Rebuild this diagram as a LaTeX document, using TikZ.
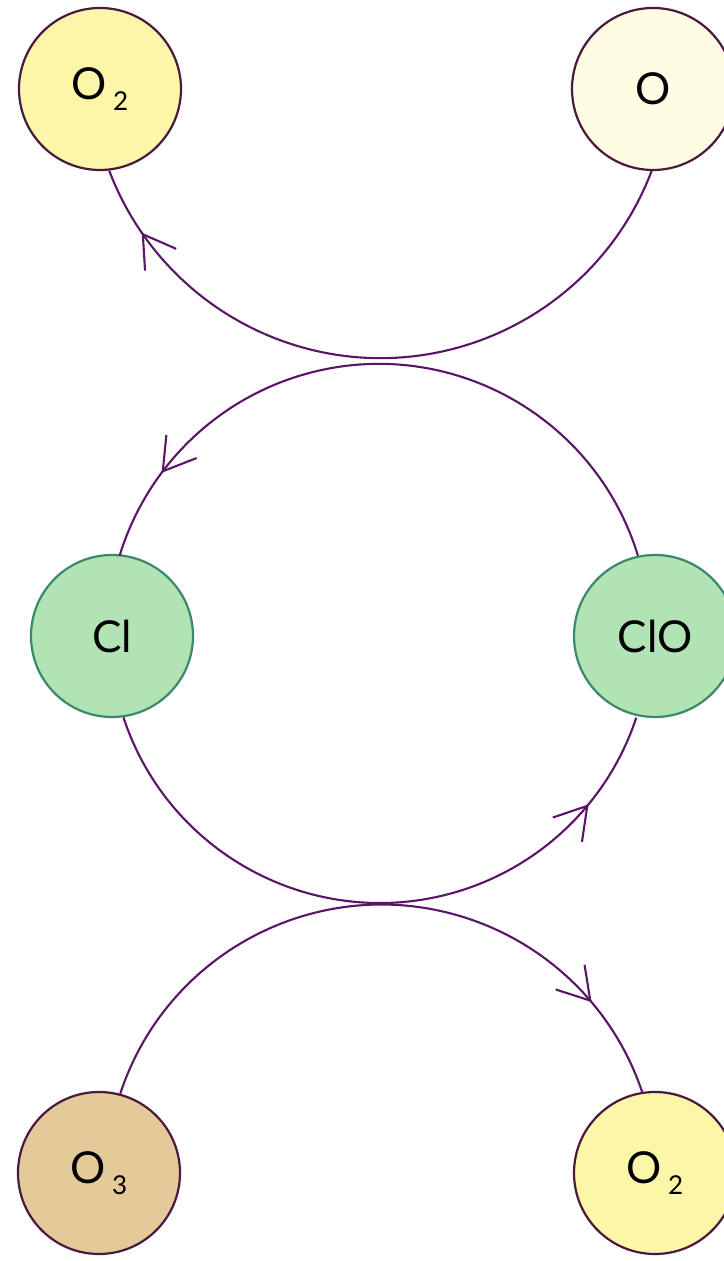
\documentclass[tikz,border=0pt]{standalone}
\usepackage{fontspec}
\setmainfont{Lato}
\usetikzlibrary{decorations.markings}
\definecolor{arcc}{HTML}{5A1666}
\definecolor{obord}{HTML}{4A1A3E}
\definecolor{gbord}{HTML}{3A8A6A}
\definecolor{otwofill}{HTML}{FBF6A8}
\definecolor{ofill}{HTML}{FEFDE3}
\definecolor{clfill}{HTML}{B2E3B4}
\definecolor{othreefill}{HTML}{E4C999}
\newcommand\molsub[1]{\hspace{6pt}\raisebox{-11pt}{\fontsize{26}{26}\selectfont #1}}
\tikzset{
  mol/.style={circle, minimum size=162pt, inner sep=0pt, line width=2.2pt,
    font=\fontsize{44}{44}\selectfont},
  omol/.style={mol, draw=obord},
  clmol/.style={mol, draw=gbord, fill=clfill},
  flow/.style={draw=arcc, line width=2.1pt},
  arrowat/.style={postaction={decorate, decoration={markings,
    mark=at position #1 with {\draw[arcc, line width=2.1pt, line join=miter]
      (-31pt,19pt) -- (0,0) -- (-31pt,-19pt);}}}}
}
\begin{document}
\begin{tikzpicture}[x=1pt,y=1pt]
\useasboundingbox (0,0) rectangle (723,1261);
\fill[white] (0,0) rectangle (723,1261);
% molecules
\node[omol, fill=otwofill] (O2a) at (100,1172) {O\molsub{2}};
\node[omol, fill=ofill] (O) at (653,1172) {O};
\node[clmol] (Cl) at (112,625) {Cl};
\node[clmol] (ClO) at (655,625) {ClO};
\node[omol, fill=othreefill] (O3) at (99,88) {O\molsub{3}};
\node[omol, fill=otwofill] (O2b) at (655,88) {O\molsub{2}};
% connectors
\draw[flow, arrowat=0.897] (O.269) arc[start angle=339.2, end angle=200.7, radius=290pt];
\draw[flow, arrowat=0.862] (ClO.102) arc[start angle=17, end angle=163, radius=271pt];
\draw[flow, arrowat=0.85] (Cl.278) arc[start angle=198.2, end angle=341.7, radius=270pt];
\draw[flow, arrowat=0.844] (O3.75) arc[start angle=161.8, end angle=18.2, radius=275pt];
\end{tikzpicture}
\end{document}
